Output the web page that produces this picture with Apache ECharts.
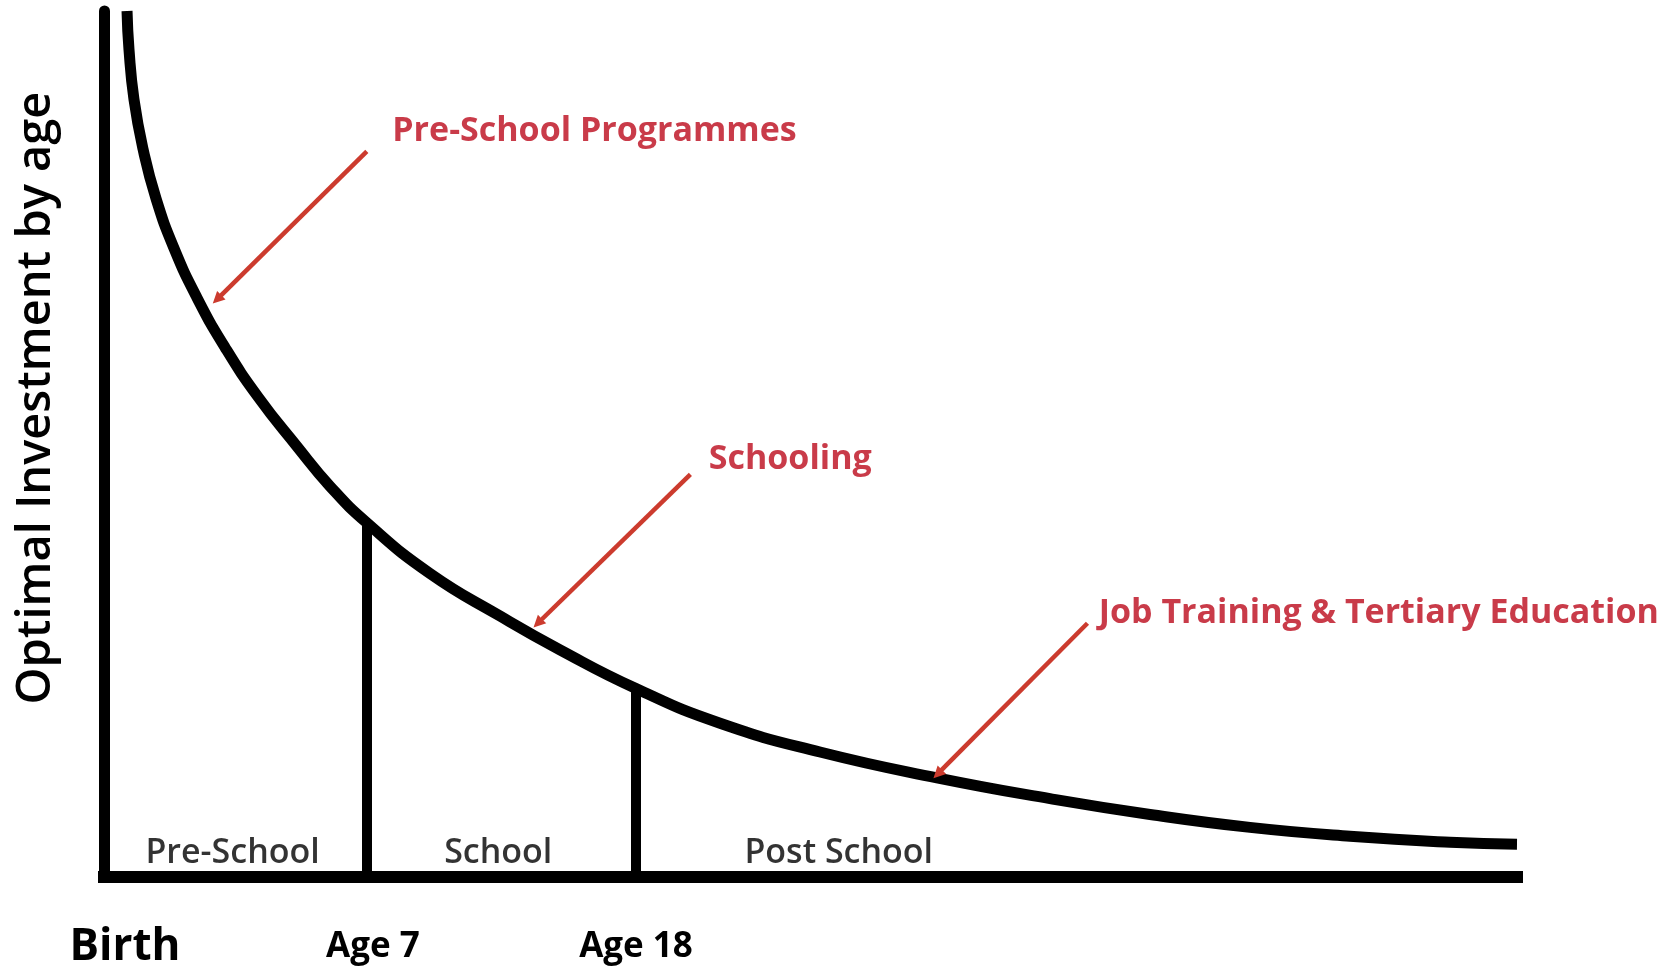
<!DOCTYPE html>
<html>
<head>
<meta charset="utf-8">
<script src="https://cdn.jsdelivr.net/npm/echarts@6/dist/echarts.min.js"></script>
<style>
  html, body { margin: 0; padding: 0; background: #ffffff; }
  #chart { width: 1670px; height: 969px; }
</style>
</head>
<body>
<div id="chart"></div>
<script>
// ---- data (x = relative position along the age axis, 0-100; y = relative optimal investment, 0-100) ----
const curveX = [1.63, 1.77, 2.12, 2.76, 3.68, 4.95, 6.58, 8.56, 10.90, 13.66, 15.99, 18.61, 23.07, 28.03, 32.27, 37.65, 43.60, 50.67, 58.95, 66.95, 74.03, 81.10, 88.18, 95.26, 100];
const curveY = [100, 95.53, 89.81, 84.08, 78.35, 72.62, 66.90, 61.17, 55.44, 49.71, 45.13, 40.89, 35.05, 30.13, 26.23, 21.76, 17.75, 14.43, 11.45, 9.05, 7.22, 5.73, 4.70, 4.01, 3.78];

const tickValues = [0, 18.61, 37.65];
const tickLabels = ['Birth', 'Age 7', 'Age 18'];

const boundaryX = [18.61, 37.65];
const boundaryTop = [40.89, 21.76];

const stageNames = ['Pre-School', 'School', 'Post School'];
const stageX = [9.1, 27.9, 52.0];
const stageY = [2.7, 2.7, 2.7];

const annoText = ['Pre-School Programmes', 'Schooling', 'Job Training & Tertiary Education'];
const annoAnchor = [[20.4, 86.1], [42.8, 48.2], [70.4, 30.5]];
const arrowFrom = [[18.6, 83.8], [41.5, 46.5], [69.6, 29.3]];
const arrowTo = [[8.0, 66.7], [30.7, 29.3], [59.0, 11.9]];

const yTitle = 'Optimal Investment by age';

// ---- chart ----
const FONT = '"Open Sans", "Noto Sans", "DejaVu Sans", sans-serif';
const RED_TEXT = '#bb0a1c';
const RED_ARROW = '#cc3b2e';
const chevron = 'path://M11,0 L22,11 L15,11 L11,7 L7,11 L0,11 Z';

const chart = echarts.init(document.getElementById('chart'), null, { renderer: 'canvas' });

const labelRich = {
  b: { fontSize: 44, fontWeight: 'bold', color: '#000', fontFamily: FONT, padding: [0, 0, 0, 42], lineHeight: 56 },
  a7: { fontSize: 35, fontWeight: 'bold', color: '#000', fontFamily: FONT, padding: [0, 0, 0, 12], lineHeight: 56 },
  a: { fontSize: 35, fontWeight: 'bold', color: '#000', fontFamily: FONT, lineHeight: 56 }
};
const richKey = ['b', 'a7', 'a'];

chart.setOption({
  animation: false,
  backgroundColor: '#ffffff',
  grid: { left: 104, right: 153, top: 11, bottom: 85, containLabel: false },
  xAxis: {
    type: 'value', min: 0, max: 100,
    splitLine: { show: false },
    axisTick: { show: false },
    axisLine: { show: true, lineStyle: { color: '#000', width: 12, cap: 'square' } },
    axisLabel: {
      show: true,
      customValues: tickValues,
      margin: 70,
      verticalAlign: 'middle',
      formatter: function (v) {
        let i = tickValues.findIndex(t => Math.abs(t - v) < 1e-6);
        if (i < 0) return '';
        return '{' + richKey[i] + '|' + tickLabels[i] + '}';
      },
      rich: labelRich
    }
  },
  yAxis: {
    type: 'value', min: 0, max: 100,
    splitLine: { show: false },
    axisTick: { show: false },
    axisLabel: { show: false },
    axisLine: { show: true, lineStyle: { color: '#000', width: 11 } },
    name: yTitle,
    nameLocation: 'middle',
    nameRotate: 90,
    nameGap: 44,
    nameTextStyle: { fontSize: 47, fontFamily: FONT, color: '#000', fontWeight: 600, padding: [0, 0, 0, 92] }
  },
  series: [
    {
      name: 'Optimal investment',
      type: 'line',
      data: curveX.map((x, i) => [x, curveY[i]]),
      smooth: 0.5,
      symbol: 'none',
      clip: false,
      lineStyle: { color: '#000', width: 11 },
      z: 3
    },
    {
      name: 'Stage boundaries',
      type: 'lines',
      coordinateSystem: 'cartesian2d',
      data: boundaryX.map((x, i) => ({ coords: [[x, 0], [x, boundaryTop[i]]] })),
      lineStyle: { color: '#000', width: 10, opacity: 1 },
      symbol: ['none', 'none'],
      z: 2
    },
    {
      name: 'Arrows',
      type: 'lines',
      coordinateSystem: 'cartesian2d',
      data: arrowFrom.map((p, i) => ({ coords: [p, arrowTo[i]] })),
      lineStyle: { color: RED_ARROW, width: 4.5, opacity: 1 },
      symbol: ['none', chevron],
      symbolSize: [22, 12],
      itemStyle: { color: RED_ARROW },
      z: 4
    },
    {
      name: 'Stage names',
      type: 'scatter',
      data: stageNames.map((n, i) => ({ name: n, value: [stageX[i], stageY[i]] })),
      symbolSize: 0,
      silent: true,
      label: {
        show: true, position: [0, 0], align: 'center', verticalAlign: 'middle',
        formatter: '{b}', fontSize: 34, fontWeight: 600, fontFamily: FONT, color: '#000'
      },
      z: 5
    },
    {
      name: 'Annotations',
      type: 'scatter',
      data: annoText.map((n, i) => ({ name: n, value: annoAnchor[i] })),
      symbolSize: 0,
      silent: true,
      label: {
        show: true, position: [0, 0], align: 'left', verticalAlign: 'middle',
        formatter: '{b}', fontSize: 34, fontWeight: 'bold', fontFamily: FONT, color: RED_TEXT
      },
      z: 5
    }
  ]
});
</script>
</body>
</html>
